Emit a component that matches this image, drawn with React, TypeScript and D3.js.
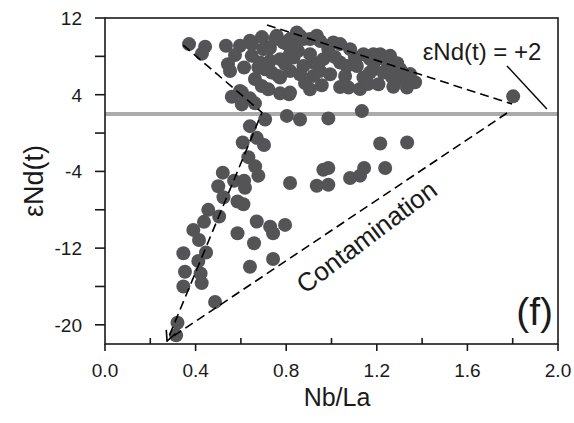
import React from "react";
import * as d3 from "d3";

const nbLa = [
  0.371, 0.442, 0.428, 0.534, 0.596, 0.543, 0.552, 0.614, 0.648, 0.648, 0.693, 0.714, 0.729, 0.677, 0.736, 0.773,
  0.758, 0.803, 0.832, 0.817, 0.692, 0.721, 0.773, 0.813, 0.56, 0.604, 0.64, 0.662, 0.604, 0.861, 0.905, 0.817,
  0.935, 1.008, 1.082, 1.141, 1.185, 1.215, 1.259, 1.29, 1.325, 1.369, 1.333, 1.273, 1.207, 1.141, 1.075, 0.994,
  0.957, 0.905, 0.817, 0.92, 1.038, 1.112, 1.185, 1.244, 1.303, 0.964, 0.876, 0.765, 0.707, 0.685, 0.788, 0.832,
  0.876, 0.751, 0.699, 0.847, 1.802, 1.17, 1.229, 1.17, 1.068, 0.596, 0.92, 0.64, 0.986, 1.038, 0.905, 0.817,
  0.95, 1.104, 0.773, 0.861,
  0.574, 0.662, 0.795, 0.852, 0.949, 1.015, 1.06, 1.126, 1.192, 1.267, 1.347, 0.883, 0.728, 1.104, 1.161, 1.302,
  1.236, 1.038,
  0.707, 0.803, 0.861, 0.986, 1.134, 0.64, 0.608, 0.67, 0.702, 1.215, 1.334, 0.633, 0.663, 0.677, 0.52, 0.5,
  0.57, 0.614, 0.618, 0.523, 0.585, 0.611, 0.456, 0.504, 0.437, 0.39, 0.415, 0.346, 0.446, 0.412, 0.353, 0.422,
  0.427, 0.346, 0.486, 0.32, 0.314, 0.67, 0.729, 0.742, 0.795, 0.585, 0.658, 0.64, 0.742, 0.817, 0.964, 0.986,
  0.935, 0.986, 1.082, 1.126, 1.144, 1.237,
];
const eNd = [
  9.28, 9.01, 8.28, 9.1, 9.1, 7.18, 6.48, 6.84, 9.28, 8.05, 10.01, 8.96, 7.53, 6.84, 6.31, 5.79,
  10.15, 9.28, 7.88, 6.48, 4.91, 4.56, 4.14, 4.04, 3.78, 4.25, 3.62, 3.1, 2.99, 10.15, 9.8, 9.8,
  10.15, 9.45, 8.75, 8.23, 8.23, 8.23, 8.05, 7.29, 5.96, 5.3, 4.74, 4.83, 5.09, 5.79, 4.74, 6.13,
  4.98, 4.56, 4.22, 7.36, 7.36, 7.0, 6.66, 6.66, 6.66, 7.71, 7.0, 5.96, 6.66, 7.36, 9.45, 9.1,
  9.8, 9.8, 8.75, 10.5, 3.83, 7.71, 6.31, 6.31, 7.0, 4.39, 5.96, 9.62, 8.75, 9.28, 8.23, 8.23,
  9.59, 7.91, 7.71, 6.13,
  8.14, 5.64, 7.2, 8.56, 6.48, 7.94, 5.95, 4.59, 7.52, 5.85, 6.16, 5.22, 8.86, 7.52, 5.12, 5.64,
  7.73, 4.8,
  1.42, 1.79, 1.42, 1.53, 2.29, 0.72, -0.99, -0.5, -1.25, -1.09, -0.99, -2.51, -3.47, -4.44, -4.13, -5.54,
  -4.97, -4.97, -5.7, -6.7, -7.14, -7.43, -8.01, -8.71, -9.26, -10.1, -11.15, -12.54, -12.46, -13.35, -14.47, -14.64,
  -15.65, -16.0, -17.61, -19.79, -21.1, -9.23, -9.76, -10.45, -9.58, -10.45, -11.49, -13.94, -13.14, -5.21, -3.82, -3.64,
  -5.49, -5.39, -4.69, -4.44, -3.64, -3.64,
];

const xTicksMajor = [0.0, 0.4, 0.8, 1.2, 1.6, 2.0];
const xTicksMinor = [0.2, 0.6, 1.0, 1.4, 1.8];
const yTicksMajor = [12, 4, -4, -12, -20];
const yTicksMinor = [8, 0, -8, -16];

const refLineValue = 2;
const mixingLine: [number, number][] = [[0.345, 9.17], [0.693, 2.15], [0.274, -21.69]];
const upperLine: [number, number][] = [[0.715, 11.27], [1.797, 3.03]];
const contaminationLine: [number, number][] = [[1.775, 2.09], [0.285, -21.45]];
const leaderLine: [number, number][] = [[1.775, 7.0], [1.951, 2.51]];

const FONT = "'Liberation Sans', Arial, Helvetica, sans-serif";

export default function App() {
  const W = 574, H = 423;
  const left = 105, right = 558, top = 18, bottom = 344;
  const x = d3.scaleLinear().domain([0, 2]).range([left, right]);
  const y = d3.scaleLinear().domain([-22, 12]).range([bottom, top]);
  const line = d3.line<[number, number]>().x((d) => x(d[0])).y((d) => y(d[1]));
  const pts = nbLa.map((v, i) => [v, eNd[i]] as [number, number]);
  const axisColor = "#1a1a1a";
  return (
    <svg width={W} height={H} style={{ position: "absolute", left: 0, top: 0, background: "#fff" }}>
      <defs>
        <marker id="arrow" viewBox="0 0 12 12" refX="11" refY="6" markerWidth="12" markerHeight="12" markerUnits="userSpaceOnUse" orient="auto">
          <path d="M1,1 L11,6 L1,11" fill="none" stroke="#000" strokeWidth={1.6} />
        </marker>
      </defs>
      <line x1={left} x2={right} y1={y(refLineValue)} y2={y(refLineValue)} stroke="#ababab" strokeWidth={4} />
      <g>
        {pts.map((p, i) => (
          <circle key={i} cx={x(p[0])} cy={y(p[1])} r={7} fill="#545456" />
        ))}
      </g>
      <path d={line(mixingLine) || ""} fill="none" stroke="#000" strokeWidth={1.6} strokeDasharray="9,5" markerEnd="url(#arrow)" />
      <path d={line(upperLine) || ""} fill="none" stroke="#000" strokeWidth={1.6} strokeDasharray="9,5" />
      <path d={line(contaminationLine) || ""} fill="none" stroke="#000" strokeWidth={1.6} strokeDasharray="9,5" />
      <path d={line(leaderLine) || ""} fill="none" stroke="#000" strokeWidth={1.4} />
      <rect x={left} y={top} width={right - left} height={bottom - top} fill="none" stroke={axisColor} strokeWidth={1.6} />
      {xTicksMajor.map((t) => (
        <g key={"xm" + t}>
          <line x1={x(t)} x2={x(t)} y1={bottom} y2={bottom + 7} stroke={axisColor} strokeWidth={1.6} />
          <text x={x(t)} y={377} textAnchor="middle" fontFamily={FONT} fontSize={19} fill="#1a1a1a">{t.toFixed(1)}</text>
        </g>
      ))}
      {xTicksMinor.map((t) => (
        <line key={"xn" + t} x1={x(t)} x2={x(t)} y1={bottom} y2={bottom - 6} stroke={axisColor} strokeWidth={1.6} />
      ))}
      {yTicksMajor.map((t) => (
        <g key={"ym" + t}>
          <line x1={left - 10} x2={left} y1={y(t)} y2={y(t)} stroke={axisColor} strokeWidth={1.6} />
          <text x={82} y={y(t) + 7} textAnchor="end" fontFamily={FONT} fontSize={19} fill="#1a1a1a">{t}</text>
        </g>
      ))}
      {yTicksMinor.map((t) => (
        <line key={"yn" + t} x1={left - 10} x2={left} y1={y(t)} y2={y(t)} stroke={axisColor} strokeWidth={1.6} />
      ))}
      <text x={337} y={406} textAnchor="middle" fontFamily={FONT} fontSize={25} fill="#1a1a1a">Nb/La</text>
      <text transform={`translate(43,${(top + bottom) / 2}) rotate(-90)`} textAnchor="middle" fontFamily={FONT} fontSize={27} fill="#1a1a1a">εNd(t)</text>
      <text x={482} y={60} textAnchor="middle" fontFamily={FONT} fontSize={24} fill="#1a1a1a">εNd(t) = +2</text>
      <text x={553} y={325} textAnchor="end" fontFamily={FONT} fontSize={39} fill="#1a1a1a">(f)</text>
      <text transform="translate(372,244) rotate(-37)" textAnchor="middle" fontFamily={FONT} fontSize={26} fill="#1a1a1a">Contamination</text>
    </svg>
  );
}
